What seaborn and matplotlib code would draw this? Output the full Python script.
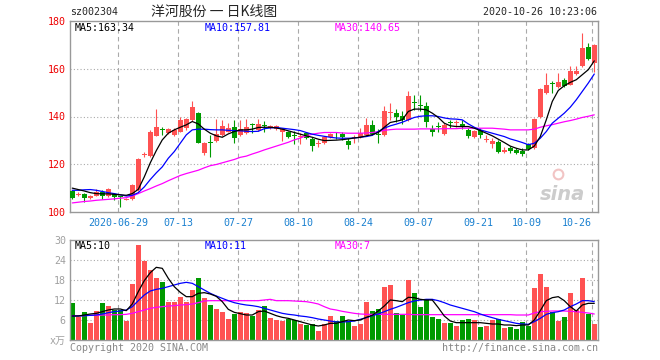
import numpy as np
import pandas as pd
import matplotlib
matplotlib.use("Agg")
import matplotlib.pyplot as plt
import seaborn as sns

sns.set_style("white")
plt.rcParams['font.family'] = ['DejaVu Sans Mono', 'Noto Sans CJK SC']

# ===== DATA =====
tick_labels = ["2020-06-29", "07-13", "07-27", "08-10", "08-24",
               "09-07", "09-21", "10-09", "10-26"]
tick_index = [8, 18, 28, 38, 48, 58, 68, 76, 87]

opens = [108.7, 107.0, 107.7, 106.0, 106.7, 108.4, 106.6, 107.4, 106.5, 105.2,
         105.3, 109.1, 123.8, 123.4, 132.0, 134.6, 133.0, 132.3, 133.7, 135.1,
         138.6, 141.5, 124.6, 129.4, 129.8, 132.3, 133.7, 135.8, 132.3, 133.0,
         136.6, 134.4, 136.4, 135.1, 134.7, 133.7, 133.7, 132.0, 131.3, 133.0,
         130.5, 128.6, 128.8, 131.3, 132.4, 132.6, 129.9, 130.9, 131.6, 132.3,
         136.5, 132.8, 132.3, 141.5, 141.4, 140.4, 138.6, 146.0, 144.7, 144.5,
         134.7, 135.9, 132.7, 137.6, 137.3, 136.8, 134.4, 131.3, 134.4, 130.3,
         128.5, 129.5, 125.3, 127.0, 126.0, 125.5, 128.5, 126.7, 139.7, 149.8,
         153.9, 152.4, 155.2, 153.3, 157.8, 161.3, 169.2, 162.5]
highs = [109.3, 108.2, 108.0, 107.0, 109.8, 109.4, 110.0, 107.8, 106.6, 106.0,
         111.8, 122.5, 125.3, 134.5, 143.1, 135.8, 135.2, 135.0, 140.0, 139.5,
         146.7, 141.7, 129.5, 132.3, 138.9, 138.6, 137.2, 138.6, 138.6, 139.0,
         137.2, 139.0, 138.2, 136.6, 136.5, 135.0, 134.0, 134.0, 133.0, 133.3,
         131.6, 130.2, 131.9, 133.0, 133.7, 133.7, 130.9, 132.3, 135.1, 139.3,
         138.6, 134.7, 144.5, 145.6, 143.1, 142.1, 150.5, 149.1, 149.1, 145.9,
         136.5, 137.5, 137.2, 138.6, 138.6, 138.6, 135.1, 134.4, 135.1, 132.3,
         130.9, 130.2, 127.4, 127.6, 127.0, 127.0, 129.0, 139.3, 151.9, 158.2,
         154.7, 158.2, 156.2, 161.3, 161.3, 174.8, 170.6, 170.2]
lows = [105.5, 106.5, 104.2, 105.5, 106.5, 105.6, 106.3, 104.9, 102.1, 104.9,
        105.0, 108.9, 123.2, 123.0, 131.8, 132.3, 132.6, 132.0, 133.3, 134.5,
        138.0, 128.7, 123.9, 123.2, 129.5, 132.0, 133.4, 128.8, 132.0, 132.6,
        133.0, 134.0, 133.3, 134.6, 134.3, 129.9, 131.0, 128.4, 128.5, 130.5,
        125.6, 127.4, 128.5, 131.0, 130.5, 130.2, 126.2, 128.8, 130.9, 131.9,
        132.3, 128.8, 131.9, 138.6, 137.9, 136.8, 138.2, 142.8, 142.1, 135.8,
        131.9, 133.7, 132.3, 135.1, 135.8, 134.7, 131.2, 131.0, 130.9, 129.5,
        126.7, 124.6, 124.9, 124.9, 124.2, 123.4, 126.0, 126.3, 139.3, 149.5,
        149.8, 152.0, 152.3, 153.0, 157.5, 160.9, 163.8, 158.5]
closes = [105.9, 107.6, 106.0, 106.5, 108.4, 106.7, 109.8, 106.3, 106.1, 105.6,
          111.5, 122.2, 124.2, 133.7, 135.4, 134.3, 134.7, 134.4, 138.6, 138.9,
          143.9, 129.1, 129.1, 129.0, 132.6, 136.1, 135.1, 130.9, 134.7, 135.8,
          136.3, 136.9, 136.0, 136.1, 136.1, 134.7, 131.3, 131.7, 131.7, 130.9,
          127.6, 128.9, 131.6, 132.6, 132.1, 131.3, 128.1, 131.2, 133.0, 136.5,
          132.6, 132.5, 142.1, 141.8, 140.0, 138.6, 148.7, 145.7, 144.4, 137.5,
          133.3, 135.6, 136.5, 137.3, 137.6, 135.8, 131.9, 134.0, 132.3, 130.6,
          129.9, 125.3, 126.0, 125.4, 124.6, 124.1, 126.4, 138.9, 151.5, 153.3,
          153.6, 154.3, 152.6, 158.9, 158.9, 168.5, 164.1, 169.9]

ma5 = [110.0, 109.4, 108.8, 108.1, 107.7, 107.6, 107.6, 107.4, 107.2, 107.0,
       107.7, 109.5, 114.7, 120.6, 125.7, 130.2, 133.0, 134.4, 135.5, 136.5,
       137.9, 136.9, 134.7, 133.0, 131.9, 131.3, 132.7, 133.7, 134.4, 134.4,
       134.7, 135.4, 135.5, 135.5, 135.2, 134.7, 134.0, 133.3, 132.6, 131.9,
       131.3, 130.5, 129.9, 130.0, 130.1, 130.3, 130.6, 131.0, 131.3, 131.9,
       132.4, 133.3, 135.5, 137.5, 138.0, 138.6, 142.1, 143.1, 143.1, 142.8,
       141.4, 139.6, 137.2, 136.1, 135.8, 135.8, 135.8, 135.1, 134.1, 133.0,
       131.9, 130.5, 129.1, 127.6, 126.7, 126.0, 126.0, 127.6, 131.6, 138.6,
       146.3, 150.9, 152.9, 154.3, 155.4, 157.5, 159.6, 163.3]
ma10 = [109.1, 109.1, 109.3, 109.4, 109.1, 108.6, 108.1, 107.7, 107.2, 106.7,
        107.0, 108.1, 110.5, 113.6, 116.4, 118.9, 122.5, 125.3, 128.8, 132.3,
        134.4, 134.7, 134.7, 134.5, 134.4, 134.4, 134.2, 134.1, 134.0, 133.8,
        133.7, 133.8, 134.9, 135.2, 135.4, 135.1, 134.8, 134.5, 134.1, 133.3,
        132.6, 132.1, 131.7, 131.3, 131.0, 130.9, 130.9, 131.0, 131.3, 131.6,
        132.1, 133.7, 135.1, 136.1, 136.8, 137.6, 138.6, 139.6, 140.1, 140.3,
        140.3, 140.0, 139.4, 139.0, 138.9, 138.6, 136.9, 135.5, 134.4, 133.7,
        133.0, 132.3, 131.6, 130.6, 129.9, 129.1, 128.2, 128.8, 130.9, 133.7,
        137.2, 139.3, 141.4, 143.9, 147.0, 150.5, 154.0, 157.8]
ma30 = [103.8, 104.1, 104.4, 104.6, 104.9, 105.1, 105.3, 105.5, 105.8, 106.0,
        106.7, 107.7, 108.8, 109.8, 110.9, 111.9, 113.1, 114.2, 115.3, 116.1,
        116.8, 117.5, 118.5, 119.4, 119.9, 120.6, 121.3, 122.0, 122.9, 123.4,
        124.3, 125.1, 126.0, 126.8, 127.6, 128.4, 129.2, 130.2, 131.0, 131.9,
        132.6, 133.0, 133.3, 133.3, 133.3, 133.1, 133.0, 133.0, 133.0, 133.1,
        133.3, 133.7, 134.2, 134.5, 134.7, 134.7, 134.7, 134.7, 134.8, 134.8,
        134.8, 134.8, 134.9, 134.9, 134.9, 135.1, 135.1, 135.1, 135.1, 135.1,
        135.1, 134.9, 134.7, 134.4, 134.4, 134.4, 134.4, 134.7, 135.5, 136.1,
        136.6, 137.2, 137.8, 138.3, 138.9, 139.6, 140.1, 140.7]

volume = [11.0, 7.0, 8.4, 5.2, 8.7, 11.0, 10.2, 9.0, 9.0, 5.8,
          16.8, 28.5, 23.7, 21.0, 18.5, 17.3, 11.5, 11.5, 13.0, 11.5,
          15.0, 18.5, 12.5, 10.5, 9.3, 8.5, 6.2, 7.8, 8.5, 8.2,
          7.3, 9.0, 10.2, 6.7, 6.0, 5.8, 6.2, 6.0, 4.8, 4.5,
          4.8, 2.8, 4.8, 7.2, 5.8, 7.2, 5.8, 4.2, 4.8, 11.5,
          8.8, 9.3, 16.0, 16.5, 8.2, 7.5, 18.0, 14.2, 10.0, 12.3,
          6.8, 6.3, 5.0, 5.0, 4.2, 6.0, 6.3, 6.0, 4.0, 4.2,
          6.0, 6.3, 3.7, 4.0, 3.3, 5.5, 4.2, 15.7, 19.8, 16.0,
          8.5, 5.8, 6.8, 14.2, 9.0, 18.5, 7.8, 4.8]
vol_ma5 = [7.2, 7.2, 7.5, 7.8, 8.0, 8.5, 9.0, 9.3, 9.3, 8.8,
           10.8, 14.5, 17.8, 20.2, 21.8, 21.5, 18.5, 16.0, 14.3, 13.0,
           13.0, 14.0, 14.2, 13.8, 13.1, 11.5, 9.2, 8.3, 7.9, 7.5,
           7.5, 8.5, 8.7, 8.0, 7.3, 6.8, 6.5, 6.0, 5.5, 5.0,
           4.5, 4.2, 4.5, 5.0, 5.0, 5.5, 6.0, 5.8, 6.0, 6.8,
           7.4, 8.7, 10.2, 12.0, 11.8, 11.5, 12.8, 12.7, 12.2, 12.0,
           12.0, 9.7, 7.2, 5.7, 5.2, 5.2, 5.2, 5.2, 5.2, 5.0,
           4.8, 4.8, 4.5, 4.5, 4.3, 4.5, 4.5, 6.0, 8.8, 11.8,
           12.7, 13.0, 11.8, 10.0, 8.7, 10.5, 11.0, 11.0]
vol_ma10 = [7.2, 7.2, 7.3, 7.4, 7.5, 7.8, 8.2, 8.5, 8.7, 9.0,
            10.0, 11.8, 13.5, 14.7, 15.2, 15.5, 16.0, 16.5, 17.0, 17.3,
            17.0, 16.0, 15.0, 14.0, 13.2, 12.5, 11.8, 11.2, 10.8, 10.5,
            10.3, 10.0, 9.5, 9.0, 8.5, 8.0, 7.7, 7.5, 7.2, 7.0,
            6.7, 6.3, 6.0, 5.7, 5.4, 5.4, 5.5, 5.7, 6.2, 6.7,
            7.3, 7.8, 8.5, 9.2, 9.8, 10.5, 11.2, 11.7, 12.0, 12.2,
            12.2, 11.8, 11.2, 10.5, 10.0, 9.5, 9.0, 8.5, 7.8, 7.2,
            6.7, 6.2, 5.8, 5.4, 5.0, 4.8, 4.7, 5.5, 6.5, 7.7,
            8.2, 8.5, 9.0, 10.0, 10.8, 11.8, 11.8, 11.5]
vol_ma30 = [7.3, 7.3, 7.3, 7.4, 7.4, 7.5, 7.5, 7.6, 7.6, 7.7,
            8.0, 8.5, 9.0, 9.5, 9.8, 10.0, 10.2, 10.3, 10.5, 10.6,
            10.8, 11.2, 11.7, 11.8, 11.8, 11.8, 11.8, 11.8, 11.8, 11.8,
            11.8, 11.8, 12.0, 12.2, 11.8, 11.8, 11.8, 11.7, 11.6, 11.5,
            11.2, 10.8, 10.0, 9.3, 9.0, 8.6, 8.3, 8.0, 7.8, 7.7,
            7.7, 7.7, 7.7, 7.7, 7.7, 7.7, 7.7, 7.6, 7.6, 7.6,
            7.6, 7.6, 7.6, 7.6, 7.6, 7.6, 7.6, 7.6, 7.6, 7.6,
            7.6, 7.6, 7.6, 7.6, 7.5, 7.5, 7.5, 8.1, 8.5, 8.6,
            8.7, 8.7, 8.7, 8.6, 8.5, 8.3, 8.1, 7.8]

df = pd.DataFrame({"open": opens, "high": highs, "low": lows, "close": closes,
                   "ma5": ma5, "ma10": ma10, "ma30": ma30, "volume": volume,
                   "vma5": vol_ma5, "vma10": vol_ma10, "vma30": vol_ma30})
df["idx"] = np.arange(len(df))

# ===== LAYOUT =====
W, H = 660, 360
fig = plt.figure(figsize=(W / 100, H / 100), dpi=100)


def box(l, t, r, b):
    return [l / W, 1 - b / H, (r - l) / W, (b - t) / H]


ax = fig.add_axes(box(70, 21, 598, 212))
axv = fig.add_axes(box(70, 240, 598, 340))

RED = "#ff5252"
GREEN = "#009a00"
FS = 7.2
up = df["close"] >= df["open"]
colors = np.where(up, RED, GREEN)

# ===== CANDLES =====
ax.vlines(df["idx"], df["low"], df["high"], colors=colors, lw=0.8, zorder=2)
body = (df["close"] - df["open"]).abs()
mid = (df["close"] + df["open"]) / 2
bh = np.maximum(body, 0.4)
ax.bar(df["idx"], bh, bottom=mid - bh / 2, width=0.8, color=colors,
       linewidth=0, zorder=3)

for col, c in [("ma30", "#ff00ff"), ("ma10", "#0000ff"), ("ma5", "black")]:
    sns.lineplot(x=df["idx"], y=df[col], ax=ax, color=c, lw=0.9, zorder=4)

# ===== VOLUME =====
axv.bar(df["idx"], df["volume"], width=0.82, color=colors, linewidth=0, zorder=2)
for col, c in [("vma30", "#ff00ff"), ("vma10", "#0000ff"), ("vma5", "black")]:
    sns.lineplot(x=df["idx"], y=df[col], ax=axv, color=c, lw=0.9, zorder=4)

# ===== AXES STYLE =====
grid_x = [t - 0.33 for t in tick_index]
xlab_pos = grid_x[:-1] + [84.1]
for a, hl in [(ax, [120, 140, 160]), (axv, [6, 12, 18, 24])]:
    a.set_xlim(-0.38, 87.62)
    for v in hl:
        a.axhline(v, color="#aaaaaa", lw=0.8, ls=(0, (1, 2)), zorder=1)
    for g in grid_x:
        a.axvline(g, color="#aaaaaa", lw=0.8, ls=(0, (4, 3)), zorder=1)
    for s in a.spines.values():
        s.set_color("#999999")
        s.set_linewidth(1.0)
    a.set_xlabel("")
    a.set_ylabel("")
    a.tick_params(length=0, labelsize=FS)

ax.set_ylim(100, 180)
ax.set_yticks([100, 120, 140, 160, 180])
ax.tick_params(axis="y", colors="#ee0000", pad=3)
ax.set_xticks(xlab_pos)
ax.set_xticklabels(tick_labels, color="#1a80d0")
ax.tick_params(axis="x", pad=4)

axv.set_ylim(0, 30)
axv.set_yticks([0, 6, 12, 18, 24, 30])
axv.set_yticklabels(["x万", "6", "12", "18", "24", "30"])
axv.tick_params(axis="y", colors="#a0a0a0", pad=3)
axv.set_xticks([])

# watermark
ax.text(0.975, 0.09, "sina", transform=ax.transAxes, ha="right", va="center",
        fontsize=14, fontweight="bold", style="italic", color="#cccccc",
        family="DejaVu Sans", zorder=0)
ax.plot([0.925], [0.20], transform=ax.transAxes, marker="o", ms=7,
        mfc="none", mec="#f2c4c4", mew=1.5, zorder=0)

# ===== TEXTS =====
def ftext(x, y, s, **kw):
    fig.text(x / W, 1 - y / H, s, va="center", fontsize=FS, **kw)


ftext(70, 12, "sz002304", ha="left")
fig.text(214 / W, 1 - 12 / H, "洋河股份 一 日K线图", ha="center", va="center",
         fontsize=10, family=["Noto Sans CJK SC", "DejaVu Sans"])
ftext(597, 12, "2020-10-26 10:23:06", ha="right")

ftext(75, 28, "MA5:163.34", ha="left", color="black")
ftext(205, 28, "MA10:157.81", ha="left", color="#0000ff")
ftext(335, 28, "MA30:140.65", ha="left", color="#ff00ff")

ftext(75, 246, "MA5:10", ha="left", color="black")
ftext(205, 246, "MA10:11", ha="left", color="#0000ff")
ftext(335, 246, "MA30:7", ha="left", color="#ff00ff")

ftext(70, 348, "Copyright 2020 SINA.COM", ha="left", color="#888888")
ftext(598, 348, "http://finance.sina.com.cn", ha="right", color="#888888")

plt.savefig("out.png", dpi=100)
plt.close()
